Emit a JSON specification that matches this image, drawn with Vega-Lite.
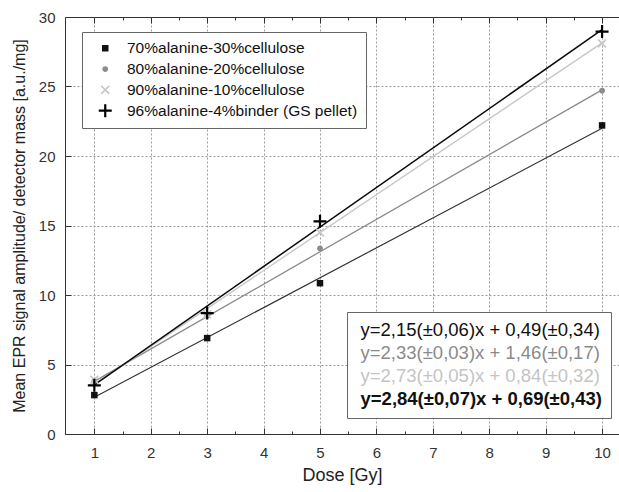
{
  "$schema": "https://vega.github.io/schema/vega-lite/v6.json",
  "autosize": {"type": "none"},
  "padding": {"left": 65, "top": 17, "right": 0, "bottom": 58},
  "width": 554,
  "height": 417,
  "config": {
    "font": "Liberation Sans",
    "view": {"stroke": null},
    "axis": {
      "domainColor": "#333",
      "tickColor": "#333",
      "labelColor": "#333",
      "labelFontSize": 15,
      "titleColor": "#222",
      "titleFontSize": 16,
      "titleFontWeight": "normal",
      "gridColor": "#9a9a9a",
      "gridDash": [2, 2],
      "labelOverlap": false
    }
  },
  "datasets": {
    "points": [
      {"dose": 1, "signal": 2.8, "series": "70%alanine-30%cellulose"},
      {"dose": 3, "signal": 6.9, "series": "70%alanine-30%cellulose"},
      {"dose": 5, "signal": 10.85, "series": "70%alanine-30%cellulose"},
      {"dose": 10, "signal": 22.2, "series": "70%alanine-30%cellulose"},
      {"dose": 1, "signal": 3.8, "series": "80%alanine-20%cellulose"},
      {"dose": 3, "signal": 8.5, "series": "80%alanine-20%cellulose"},
      {"dose": 5, "signal": 13.35, "series": "80%alanine-20%cellulose"},
      {"dose": 10, "signal": 24.7, "series": "80%alanine-20%cellulose"},
      {"dose": 1, "signal": 3.9, "series": "90%alanine-10%cellulose"},
      {"dose": 3, "signal": 8.6, "series": "90%alanine-10%cellulose"},
      {"dose": 5, "signal": 14.5, "series": "90%alanine-10%cellulose"},
      {"dose": 10, "signal": 28.1, "series": "90%alanine-10%cellulose"},
      {"dose": 1, "signal": 3.5, "series": "96%alanine-4%binder (GS pellet)"},
      {"dose": 3, "signal": 8.7, "series": "96%alanine-4%binder (GS pellet)"},
      {"dose": 5, "signal": 15.3, "series": "96%alanine-4%binder (GS pellet)"},
      {"dose": 10, "signal": 28.95, "series": "96%alanine-4%binder (GS pellet)"}
    ],
    "fits": [
      {"dose": 1, "fit": 2.64, "eq": "y=2,15(±0,06)x + 0,49(±0,34)"},
      {"dose": 10, "fit": 21.99, "eq": "y=2,15(±0,06)x + 0,49(±0,34)"},
      {"dose": 1, "fit": 3.79, "eq": "y=2,33(±0,03)x + 1,46(±0,17)"},
      {"dose": 10, "fit": 24.76, "eq": "y=2,33(±0,03)x + 1,46(±0,17)"},
      {"dose": 1, "fit": 3.57, "eq": "y=2,73(±0,05)x + 0,84(±0,32)"},
      {"dose": 10, "fit": 28.14, "eq": "y=2,73(±0,05)x + 0,84(±0,32)"},
      {"dose": 1, "fit": 3.53, "eq": "y=2,84(±0,07)x + 0,69(±0,43)"},
      {"dose": 10, "fit": 29.09, "eq": "y=2,84(±0,07)x + 0,69(±0,43)"}
    ]
  },
  "layer": [
    {
      "data": {"name": "fits"},
      "mark": {"type": "line"},
      "encoding": {
        "x": {
          "field": "dose", "type": "quantitative",
          "scale": {"domain": [0.48, 10.3], "nice": false, "zero": false},
          "axis": {
            "orient": "bottom",
            "title": "Dose [Gy]",
            "titleFontSize": 18,
            "format": "~g",
            "values": [1, 1.5, 2, 2.5, 3, 3.5, 4, 4.5, 5, 5.5, 6, 6.5, 7, 7.5, 8, 8.5, 9, 9.5, 10],
            "labelExpr": "datum.value % 1 == 0 ? datum.label : ''",
            "tickSize": {"condition": {"test": "datum.value % 1 != 0", "value": -3}, "value": -6},
            "labelPadding": 17,
            "titlePadding": 3,
            "grid": true,
            "gridOpacity": {"condition": {"test": "datum.value % 1 != 0", "value": 0}, "value": 1}
          }
        },
        "y": {
          "field": "fit", "type": "quantitative",
          "scale": {"domain": [0, 30], "nice": false},
          "axis": {
            "title": "Mean EPR signal amplitude/ detector mass [a.u./mg]",
            "values": [0, 2.5, 5, 7.5, 10, 12.5, 15, 17.5, 20, 22.5, 25, 27.5, 30],
            "format": "~g",
            "labelExpr": "datum.value % 5 == 0 ? datum.label : ''",
            "tickSize": {"condition": {"test": "datum.value % 5 != 0", "value": -3}, "value": -6},
            "labelPadding": 16,
            "titlePadding": 11,
            "grid": true,
            "gridOpacity": {"condition": {"test": "datum.value % 5 != 0 || datum.value == 0 || datum.value == 30", "value": 0}, "value": 1}
          }
        },
        "stroke": {
          "field": "eq", "type": "nominal",
          "scale": {
            "domain": ["y=2,15(±0,06)x + 0,49(±0,34)", "y=2,33(±0,03)x + 1,46(±0,17)", "y=2,73(±0,05)x + 0,84(±0,32)", "y=2,84(±0,07)x + 0,69(±0,43)"],
            "range": ["#333333", "#8a8a8a", "#c8c8c8", "#0a0a0a"]
          },
          "legend": {
            "title": null,
            "orient": "none",
            "legendX": 282,
            "legendY": 295,
            "padding": 9,
            "fillColor": "white",
            "strokeColor": "#666",
            "symbolSize": 0,
            "symbolOpacity": 0,
            "labelOffset": -14,
            "labelFontSize": 18.5,
            "labelLimit": 400,
            "rowPadding": 3.8,
            "labelColor": {"expr": "datum.index == 1 ? '#8a8a8a' : datum.index == 2 ? '#c4c4c4' : '#111111'"},
            "labelFontWeight": {"expr": "datum.index == 3 ? 'bold' : 'normal'"}
          }
        },
        "strokeWidth": {
          "field": "eq", "type": "ordinal",
          "scale": {
            "domain": ["y=2,15(±0,06)x + 0,49(±0,34)", "y=2,33(±0,03)x + 1,46(±0,17)", "y=2,73(±0,05)x + 0,84(±0,32)", "y=2,84(±0,07)x + 0,69(±0,43)"],
            "range": [1.2, 1.5, 2, 2.2]
          },
          "legend": {
            "title": null,
            "orient": "none",
            "legendX": 282,
            "legendY": 295,
            "padding": 9,
            "fillColor": "white",
            "strokeColor": "#666",
            "symbolSize": 0,
            "symbolOpacity": 0,
            "labelOffset": -14,
            "labelFontSize": 18.5,
            "labelLimit": 400,
            "rowPadding": 3.8,
            "labelColor": {"expr": "datum.index == 1 ? '#8a8a8a' : datum.index == 2 ? '#c4c4c4' : '#111111'"},
            "labelFontWeight": {"expr": "datum.index == 3 ? 'bold' : 'normal'"}
          }
        }
      }
    },
    {
      "data": {"name": "points"},
      "mark": {"type": "point", "filled": true, "size": 169, "opacity": 1, "strokeWidth": 0},
      "encoding": {
        "x": {
          "field": "dose", "type": "quantitative",
          "axis": {
            "orient": "top",
            "title": null,
            "labels": false,
            "grid": false,
            "values": [1, 1.5, 2, 2.5, 3, 3.5, 4, 4.5, 5, 5.5, 6, 6.5, 7, 7.5, 8, 8.5, 9, 9.5, 10],
            "tickSize": {"condition": {"test": "datum.value % 1 != 0", "value": -3}, "value": -6}
          }
        },
        "y": {"field": "signal", "type": "quantitative"},
        "color": {
          "field": "series", "type": "nominal",
          "scale": {
            "domain": ["70%alanine-30%cellulose", "80%alanine-20%cellulose", "90%alanine-10%cellulose", "96%alanine-4%binder (GS pellet)"],
            "range": ["#111111", "#8c8c8c", "#c8c8c8", "#000000"]
          },
          "legend": {
            "title": null,
            "orient": "none",
            "legendX": 17,
            "legendY": 15,
            "padding": 8.5,
            "fillColor": "white",
            "strokeColor": "#666",
            "symbolSize": 169,
            "symbolStrokeWidth": 0,
            "symbolOffset": 7,
            "labelOffset": 14,
            "labelFontSize": 15.5,
            "labelColor": "#111",
            "labelLimit": 400,
            "rowPadding": 3.8
          }
        },
        "shape": {
          "field": "series", "type": "nominal",
          "scale": {
            "domain": ["70%alanine-30%cellulose", "80%alanine-20%cellulose", "90%alanine-10%cellulose", "96%alanine-4%binder (GS pellet)"],
            "range": [
              "M-0.5,-0.5H0.5V0.5H-0.5Z",
              "M0.45,0A0.45,0.45,0,1,1,-0.45,0A0.45,0.45,0,1,1,0.45,0Z",
              "M-0.7,-0.52L-0.52,-0.7L0,-0.18L0.52,-0.7L0.7,-0.52L0.18,0L0.7,0.52L0.52,0.7L0,0.18L-0.52,0.7L-0.7,0.52L-0.18,0Z",
              "M-0.17,-1H0.17V-0.17H1V0.17H0.17V1H-0.17V0.17H-1V-0.17H-0.17Z"
            ]
          },
          "legend": {
            "title": null,
            "orient": "none",
            "legendX": 17,
            "legendY": 15,
            "padding": 8.5,
            "fillColor": "white",
            "strokeColor": "#666",
            "symbolSize": 169,
            "symbolStrokeWidth": 0,
            "symbolOffset": 7,
            "labelOffset": 14,
            "labelFontSize": 15.5,
            "labelColor": "#111",
            "labelLimit": 400,
            "rowPadding": 3.8
          }
        }
      }
    }
  ],
  "resolve": {"axis": {"x": "independent"}}
}
